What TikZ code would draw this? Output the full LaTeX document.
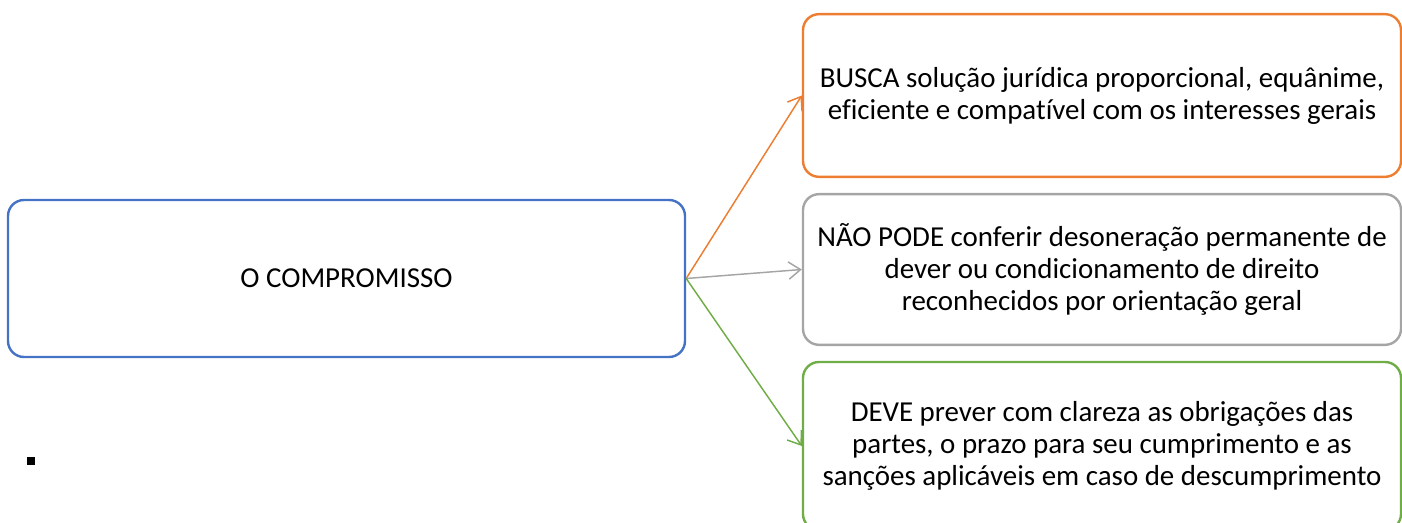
\documentclass[tikz,border=0pt]{standalone}
\usepackage{fontspec}
\setmainfont{Carlito}[Ligatures=CommonOff]
\usetikzlibrary{arrows.meta}
\definecolor{cblue}{HTML}{4472C4}
\definecolor{corange}{HTML}{ED7D31}
\definecolor{cgray}{HTML}{A5A5A5}
\definecolor{cgreen}{HTML}{70AD47}
\tikzset{
  box/.style={draw=#1, line width=1.8pt, rounded corners=12pt, align=center, inner sep=0pt,
    font=\fontsize{21.7}{24}\selectfont, text=black},
  arr/.style={draw=#1, line width=1.1pt, -{Straight Barb[length=9pt,width=13pt,line width=1.1pt]}}
}
\begin{document}
\begin{tikzpicture}[x=0.75pt,y=-0.75pt]
\useasboundingbox (0,0) rectangle (1402,523);
\node[box=cblue, minimum width=507.75pt, minimum height=117.75pt] (L) at (346.5,278.5) {O COMPROMISSO};
\node[box=corange, minimum width=448.5pt, minimum height=122pt] (A) at (1102,95.5)
  {BUSCA solução jurídica proporcional, equânime,\\eficiente e compatível com os interesses gerais};
\node[box=cgray, minimum width=448.5pt, minimum height=113pt] (B) at (1102,269.5)
  {NÃO PODE conferir desoneração permanente de\\dever ou condicionamento de direito\\reconhecidos por orientação geral};
\node[box=cgreen, minimum width=448.5pt, minimum height=126pt] (C) at (1102,446)
  {DEVE prever com clareza as obrigações das\\partes, o prazo para seu cumprimento e as\\sanções aplicáveis em caso de descumprimento};
\draw[arr=corange] (L.east) -- (A.west);
\draw[arr=cgray] (L.east) -- (B.west);
\draw[arr=cgreen] (L.east) -- (C.west);
\node[fill=black, minimum size=6.2pt, inner sep=0pt] (sq) at (31,461) {};
\end{tikzpicture}
\end{document}
